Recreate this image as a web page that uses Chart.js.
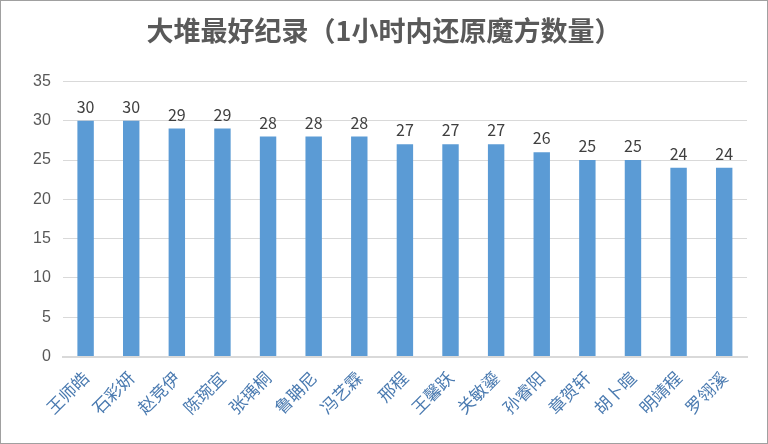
<!DOCTYPE html><html><head><meta charset="utf-8">
<script src="https://cdn.jsdelivr.net/npm/chart.js@4"></script>
<style>html,body{margin:0;padding:0;background:#fff}#w{position:absolute;left:0;top:0;width:766px;height:442px;border:1px solid #a0a0a0}</style>
</head><body><div id="w"><canvas id="c" width="766" height="442"></canvas></div>
<script>
const names=["王师皓","石彩妍","赵竞伊","陈琬宜","张瑀桐","鲁聃尼","冯艺霖","邢程","王馨跃","关敏鎏","孙睿阳","章贺轩","胡卜暄","明靖程","罗翎溪"];
const counts=[30,30,29,29,28,28,28,27,27,27,26,25,25,24,24];
const title="大堆最好纪录（1小时内还原魔方数量）";
const labelPlugin={id:'lbl',afterDatasetsDraw(ch){const ctx=ch.ctx;const m=ch.getDatasetMeta(0);ctx.save();ctx.font='16px "Noto Sans CJK SC", sans-serif';ctx.fillStyle='#404040';ctx.textAlign='center';ctx.textBaseline='bottom';m.data.forEach((b,i)=>ctx.fillText(counts[i],b.x,b.y-6));ctx.restore();}};
new Chart(document.getElementById('c'),{type:'bar',data:{labels:names,datasets:[{data:counts,backgroundColor:'#5b9bd5',barPercentage:0.36,categoryPercentage:1}]},
options:{responsive:false,animation:false,layout:{padding:{left:20,right:20,top:0,bottom:22}},
plugins:{legend:{display:false},tooltip:{enabled:false},title:{display:true,text:title,color:'#595959',font:{family:'"Noto Sans CJK SC", serif',size:27,weight:'bold'},padding:{top:14,bottom:34}}},
scales:{y:{min:0,max:35,ticks:{stepSize:5,color:'#595959',padding:12,font:{size:16}},grid:{color:'#d9d9d9',drawTicks:false},border:{display:false}},
x:{grid:{display:false},border:{color:'#d9d9d9',width:2},ticks:{color:'#4a7ab0',maxRotation:45,minRotation:45,font:{family:'"Noto Sans CJK SC", serif',size:17}}}}},plugins:[labelPlugin]});
</script></body></html>
